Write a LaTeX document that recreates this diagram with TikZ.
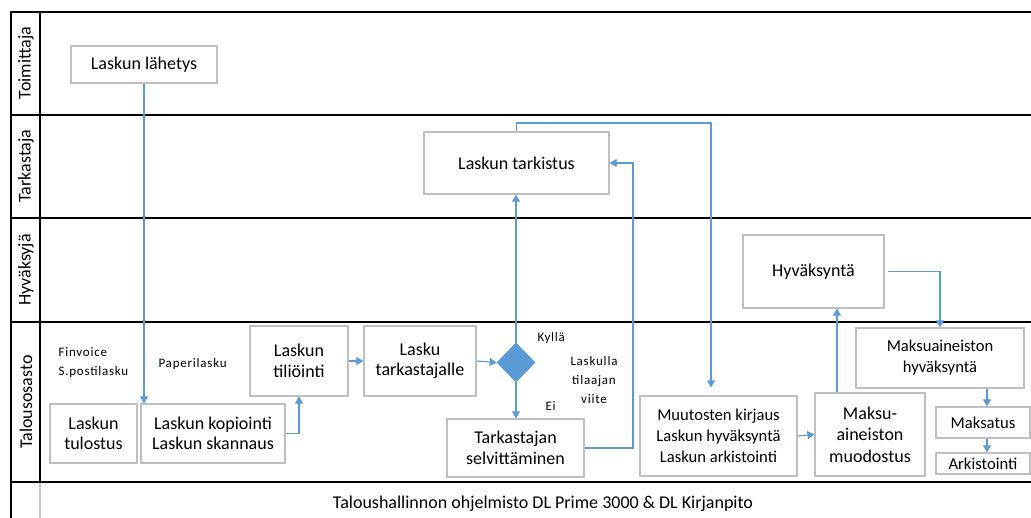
\documentclass[tikz,border=0pt]{standalone}
\usepackage{fontspec}
\setmainfont{Carlito}
\usetikzlibrary{arrows.meta,shapes.geometric}
\definecolor{flow}{HTML}{5B9BD5}
\definecolor{boxline}{HTML}{BFBFBF}
\tikzset{
  lane/.style={line width=2.6pt,black},
  box/.style={draw=boxline,line width=1.2pt,fill=white,align=center,inner sep=2pt,font=\fontsize{18}{20.5}\selectfont},
  mid/.style={font=\fontsize{16.6}{21}\selectfont},
  conn/.style={draw=flow,line width=1.1pt,-{Triangle[width=8pt,length=7pt]}},
  lanelabel/.style={rotate=90,font=\fontsize{18}{20}\selectfont},
  small/.style={font=\fontsize{13}{19}\selectfont\addfontfeature{LetterSpace=6},align=left},
}
\begin{document}
\begin{tikzpicture}[x=1pt,y=-1pt]
\useasboundingbox (0,0) rectangle (1031,518);
% lanes
\foreach \yy in {12,115,218,322,482} \draw[lane] (11,\yy) -- (1031,\yy);
\draw[lane] (11,10.7) -- (11,518);
\draw[lane] (40,10.7) -- (40,483);
\draw[line width=1.2pt,black!20] (40,483) -- (40,518);
\node[lanelabel] (l1) at (26,63) {Toimittaja};
\node[lanelabel] (l2) at (26,166) {Tarkastaja};
\node[lanelabel] (l3) at (26,270) {Hyväksyjä};
\node[lanelabel] (l4) at (26,402) {Talousosasto};
\node[font=\fontsize{18}{20}\selectfont] (sw) at (543,504) {Taloushallinnon ohjelmisto DL Prime 3000 \& DL Kirjanpito};
% boxes
\node[box,minimum width=146pt,minimum height=37pt] (lahetys) at (144,64.5) {Laskun lähetys};
\node[box,minimum width=185pt,minimum height=62pt] (tarkistus) at (516.5,163) {Laskun tarkistus};
\node[box,minimum width=141pt,minimum height=73pt] (hyv) at (813.5,271.5) {Hyväksyntä};
\node[box,minimum width=87pt,minimum height=59pt] (tulostus) at (93.5,433.5) {Laskun\\tulostus};
\node[box,minimum width=144pt,minimum height=59pt] (kopiointi) at (213,433.5) {Laskun kopiointi\\Laskun skannaus};
\node[box,minimum width=98pt,minimum height=70pt] (tiliointi) at (299,361) {Laskun\\tiliöinti};
\node[box,minimum width=112pt,minimum height=70pt] (tarkastajalle) at (420,361) {Lasku\\tarkastajalle};
\node[diamond,draw=flow,fill=flow,line width=0.8pt,minimum width=38pt,minimum height=39pt,inner sep=0pt] (dec) at (516,362.5) {};
\node[box,minimum width=137pt,minimum height=58pt] (selv) at (515.5,448) {Tarkastajan\\selvittäminen};
\node[box,mid,minimum width=157pt,minimum height=80pt] (muut) at (718.5,436) {Muutosten kirjaus\\Laskun hyväksyntä\\Laskun arkistointi};
\node[box,font=\fontsize{18}{21.5}\selectfont,minimum width=110pt,minimum height=83pt] (muod) at (870,434.5) {Maksu-\\aineiston\\muodostus};
\node[box,mid,minimum width=168pt,minimum height=60pt] (mhyv) at (940,358) {Maksuaineiston\\hyväksyntä};
\node[box,mid,minimum width=94pt,minimum height=31pt] (maksatus) at (983,422.5) {Maksatus};
\node[box,mid,minimum width=94pt,minimum height=21pt,inner sep=0pt] (ark) at (983,463.5) {Arkistointi};
% small labels
\node[small,anchor=west] (fin) at (55,363) {Finvoice\\S.postilasku};
\node[small,anchor=west] (pap) at (155,364) {Paperilasku};
\node[small,anchor=west] (kylla) at (534,338) {Kyllä};
\node[small,align=center] (viite) at (594,380) {Laskulla\\tilaajan\\viite};
\node[small,anchor=west] (ei) at (542,406) {Ei};
% connectors
\draw[conn] (lahetys.south) -- (lahetys.south |- kopiointi.north);
\draw[conn] (kopiointi.east) -| (tiliointi.south);
\draw[conn] (tiliointi.east) -- (tarkastajalle.west);
\draw[conn] (tarkastajalle.east) -- (dec.west);
\draw[conn] (dec.south) -- (dec.south |- selv.north);
\draw[conn] (dec.north) -- (dec.north |- tarkistus.south);
\coordinate (c7) at (633,448);
\draw[conn] (selv.east) -- (c7) |- (tarkistus.east);
\coordinate (c8) at (711,123);
\draw[conn,shorten >=8pt] (tarkistus.north) |- (c8) -- (c8 |- muut.north);
\draw[conn] (muut.east) -- (muod.west);
\draw[conn] ([xshift=-33pt]muod.north) -- ([xshift=-33pt]muod.north |- hyv.south);
\draw[conn] ([xshift=3pt]hyv.east) -| (mhyv.north);
\draw[conn] ([xshift=4pt]maksatus.north |- mhyv.south) -- ([xshift=4pt]maksatus.north);
\draw[conn] ([xshift=4pt]maksatus.south) -- ([xshift=4pt]ark.north);
\end{tikzpicture}
\end{document}
